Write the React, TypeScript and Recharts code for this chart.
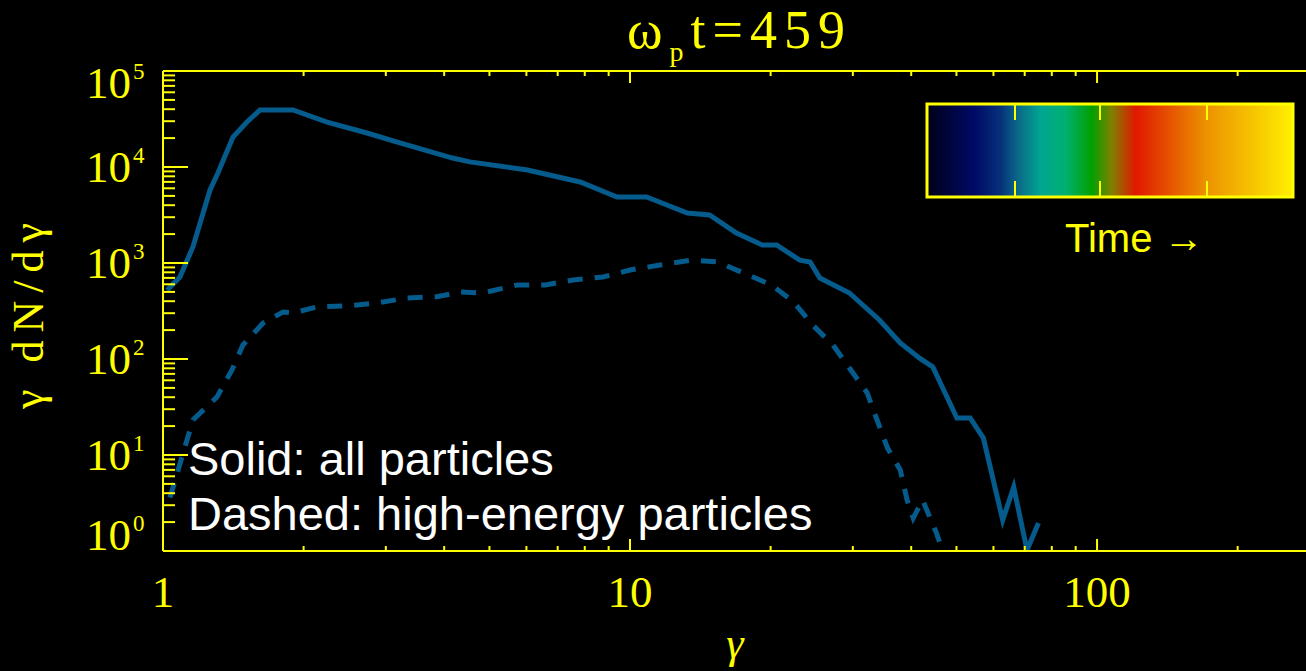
import React from 'react';
import { LineChart, Line, XAxis, YAxis } from 'recharts';

const YELLOW = '#ffff00';
const CURVE = '#045b8c';

// all particles (solid)
const solidGamma = [1.02, 1.087, 1.159, 1.261, 1.311, 1.412, 1.513, 1.613, 1.899, 2.245, 2.735, 3.216, 4.17, 4.54, 6.03, 7.82, 9.38, 10.85, 13.27, 14.8, 16.9, 19.2, 20.6, 23.1, 24.3, 25.5, 29.5, 34.2, 37.9, 41.7, 44.5, 50.1, 53.5, 57.1, 62.8, 66.3, 70.8, 74.9];
const solidCounts = [520, 715, 1470, 5760, 8660, 20500, 29400, 39300, 39300, 29400, 22600, 17800, 12400, 11300, 9300, 6980, 4870, 4870, 3320, 3160, 2050, 1540, 1540, 1070, 1025, 698, 487, 255, 147, 102, 82.6, 24.3, 24.3, 15.0, 2.1, 4.64, 1.02, 1.96];

// high-energy particles (dashed)
const dashedGamma = [1.035, 1.159, 1.305, 1.405, 1.483, 1.638, 1.806, 1.899, 2.137, 2.477, 2.872, 3.33, 3.86, 4.33, 4.84, 5.73, 6.59, 7.55, 8.76, 10.0, 11.6, 13.5, 15.4, 17.5, 20.1, 22.4, 24.6, 27.2, 29.5, 32.2, 33.8, 35.6, 37.9, 39.2, 40.4, 42.3, 45.3, 46.7];
const dashedCounts = [3.6, 23.2, 40.2, 76.8, 140, 237, 309, 302, 348, 358, 383, 432, 445, 499, 487, 590, 590, 665, 715, 845, 953, 1070, 1025, 787, 590, 392, 226, 140, 80.5, 44.3, 23.2, 11.8, 6.98, 3.4, 2.2, 3.4, 1.54, 1.0];

const xTicks = [1, 2, 3, 4, 5, 6, 7, 8, 9, 10, 20, 30, 40, 50, 60, 70, 80, 90, 100, 200];
const xLabels = [1, 10, 100];
const yTicks = [
  1, 2, 3, 4, 5, 6, 7, 8, 9,
  10, 20, 30, 40, 50, 60, 70, 80, 90,
  100, 200, 300, 400, 500, 600, 700, 800, 900,
  1000, 2000, 3000, 4000, 5000, 6000, 7000, 8000, 9000,
  10000, 20000, 30000, 40000, 50000, 60000, 70000, 80000, 90000,
  100000,
];
const yMajors = [1, 10, 100, 1000, 10000, 100000];
const yExponents = ['0', '1', '2', '3', '4', '5'];

const solidData = solidGamma.map((g, i) => ({ g, v: solidCounts[i] }));
const dashedData = dashedGamma.map((g, i) => ({ g, v: dashedCounts[i] }));

const SERIF = '"Liberation Serif", "Times New Roman", serif';
const SANS = '"Liberation Sans", Arial, sans-serif';

const BottomTick = (props: any) => {
  const { x, y, payload } = props;
  const major = xLabels.includes(payload.value);
  return (
    <g>
      <line x1={x} y1={y} x2={x} y2={y - (major ? 12 : 5)} stroke={YELLOW} strokeWidth={2} />
      {major && (
        <text x={x} y={y + 56} textAnchor="middle" fontFamily={SERIF} fontSize={45} fill={YELLOW}>
          {payload.value}
        </text>
      )}
    </g>
  );
};

const TopTick = (props: any) => {
  const { x, y, payload } = props;
  const major = xLabels.includes(payload.value);
  return <line x1={x} y1={y} x2={x} y2={y + (major ? 12 : 5)} stroke={YELLOW} strokeWidth={2} />;
};

const LeftTick = (props: any) => {
  const { x, y, payload } = props;
  const idx = yMajors.indexOf(payload.value);
  const major = idx >= 0;
  // IDL pulls the end labels inside the frame
  const dy = idx === 5 ? 27 : idx === 0 ? -1 : 15;
  return (
    <g>
      <line x1={x} y1={y} x2={x + (major ? 25 : 12)} y2={y} stroke={YELLOW} strokeWidth={2} />
      {major && (
        <text x={x - 77} y={y + dy} fontFamily={SERIF} fontSize={45} fill={YELLOW}>
          10
          <tspan dx={2} dy={-19} fontSize={23}>{yExponents[idx]}</tspan>
        </text>
      )}
    </g>
  );
};

const RightTick = (props: any) => {
  const { x, y, payload } = props;
  const major = yMajors.includes(payload.value);
  return <line x1={x} y1={y} x2={x - (major ? 25 : 12)} y2={y} stroke={YELLOW} strokeWidth={2} />;
};

const axisLine = { stroke: YELLOW, strokeWidth: 2 };

export default function App() {
  return (
    <div style={{ position: 'fixed', left: 0, top: 0, width: 1306, height: 671, overflow: 'hidden', background: '#000' }}>
      <LineChart width={1313} height={671} margin={{ top: 0, right: 0, bottom: 0, left: 0 }}>
        <XAxis
          xAxisId="bottom"
          orientation="bottom"
          dataKey="g"
          type="number"
          scale="log"
          domain={[1, 290]}
          allowDataOverflow
          ticks={xTicks}
          interval={0}
          height={120}
          tickSize={0}
          tickMargin={0}
          tickLine={false}
          axisLine={axisLine}
          tick={BottomTick}
        />
        <XAxis
          xAxisId="top"
          orientation="top"
          dataKey="g"
          type="number"
          scale="log"
          domain={[1, 290]}
          allowDataOverflow
          ticks={xTicks}
          interval={0}
          height={71}
          tickSize={0}
          tickMargin={0}
          tickLine={false}
          axisLine={axisLine}
          tick={TopTick}
        />
        <YAxis
          yAxisId="left"
          orientation="left"
          type="number"
          scale="log"
          domain={[1, 100000]}
          allowDataOverflow
          ticks={yTicks}
          interval={0}
          width={163}
          tickSize={0}
          tickMargin={0}
          tickLine={false}
          axisLine={axisLine}
          tick={LeftTick}
        />
        <YAxis
          yAxisId="right"
          orientation="right"
          type="number"
          scale="log"
          domain={[1, 100000]}
          allowDataOverflow
          ticks={yTicks}
          interval={0}
          width={0}
          tickSize={0}
          tickMargin={0}
          tickLine={false}
          axisLine={axisLine}
          tick={RightTick}
        />
        <Line
          xAxisId="bottom"
          yAxisId="left"
          data={solidData}
          dataKey="v"
          type="linear"
          stroke={CURVE}
          strokeWidth={5}
          dot={false}
          activeDot={false}
          isAnimationActive={false}
        />
        <Line
          xAxisId="bottom"
          yAxisId="left"
          data={dashedData}
          dataKey="v"
          type="linear"
          stroke={CURVE}
          strokeWidth={5}
          strokeDasharray="15 12"
          dot={false}
          activeDot={false}
          isAnimationActive={false}
        />
      </LineChart>

      <svg width={1306} height={671} style={{ position: 'absolute', left: 0, top: 0, pointerEvents: 'none' }}>
        <defs>
          <linearGradient id="timeBar" x1="0" x2="1" y1="0" y2="0">
            <stop offset="0" stopColor="#000018" />
            <stop offset="0.13" stopColor="#000a66" />
            <stop offset="0.2" stopColor="#06307a" />
            <stop offset="0.25" stopColor="#0a6a88" />
            <stop offset="0.31" stopColor="#00a592" />
            <stop offset="0.38" stopColor="#00b070" />
            <stop offset="0.45" stopColor="#00a000" />
            <stop offset="0.505" stopColor="#808000" />
            <stop offset="0.57" stopColor="#e01800" />
            <stop offset="0.76" stopColor="#ec9000" />
            <stop offset="1" stopColor="#fff000" />
          </linearGradient>
        </defs>

        <text x={627} y={48} fontFamily={SERIF} fontSize={54} fill={YELLOW} letterSpacing={7}>
          ω<tspan fontSize={28} dy={13}>p</tspan>
          <tspan dy={-13}>t=459</tspan>
        </text>

        <text
          x={43}
          y={312}
          transform="rotate(-90, 43, 312)"
          textAnchor="middle"
          fontFamily={SERIF}
          fontSize={44}
          fill={YELLOW}
          letterSpacing={8}
        >
          γ dN/dγ
        </text>

        <text x={735} y={658} textAnchor="middle" fontFamily={SERIF} fontStyle="italic" fontSize={44} fill={YELLOW}>
          γ
        </text>

        <rect x={927} y={104} width={366} height={93} fill="url(#timeBar)" stroke={YELLOW} strokeWidth={3} />
        {[1015, 1100, 1207].map((tx) => (
          <g key={tx}>
            <line x1={tx} y1={104} x2={tx} y2={120} stroke={YELLOW} strokeWidth={2} />
            <line x1={tx} y1={197} x2={tx} y2={181} stroke={YELLOW} strokeWidth={2} />
          </g>
        ))}
        <text x={1065} y={252} fontFamily={SANS} fontSize={40} fill={YELLOW}>
          Time →
        </text>

        <text x={188} y={475} fontFamily={SANS} fontSize={47} fill="#ffffff">
          Solid: all particles
        </text>
        <text x={188} y={530} fontFamily={SANS} fontSize={47} fill="#ffffff">
          Dashed: high-energy particles
        </text>
      </svg>
    </div>
  );
}
